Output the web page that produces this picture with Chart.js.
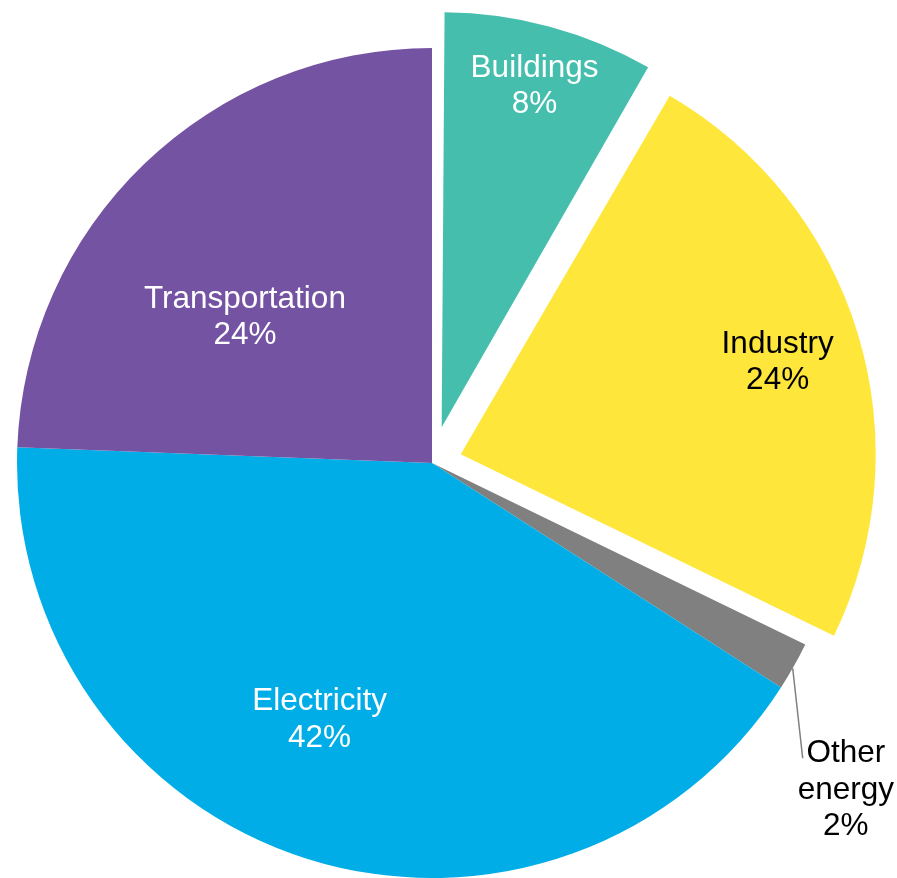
<!DOCTYPE html>
<html><head><meta charset="utf-8">
<script src="https://cdn.jsdelivr.net/npm/chart.js@4.4.1/dist/chart.umd.min.js"></script>
<style>html,body{margin:0;padding:0;background:#fff}#wrap{width:897px;height:878px;position:relative}</style>
</head><body><div id="wrap"><canvas id="c"></canvas></div>
<script>
const categories = ['Buildings', 'Industry', 'Other energy', 'Electricity', 'Transportation'];
const shares = [8.4, 23.8, 1.9, 41.5, 24.4];
const percentLabels = ['8%', '24%', '2%', '42%', '24%'];
const nameLines = [['Buildings'], ['Industry'], ['Other', 'energy'], ['Electricity'], ['Transportation']];

const sliceColors = ['#45BEAD', '#FFE63B', '#808080', '#00ADE6', '#7553A3'];
const textColors = ['#ffffff', '#000000', '#000000', '#ffffff', '#ffffff'];
const explodePx = [37, 30, 0, 0, 0];
// label placement: [radius fraction, angle shift in degrees]
const labelPlace = [[0.858, 0], [0.797, 0.3], [1.267, 8.75], [0.67, 6.4], [0.575, -7.7]];
// leader line: [r0 frac, angle0 shift, r1 frac, angle1 shift]
const leaders = [null, null, [1.0, 0.3, 1.142, 9.2], null, null];

const R = 415;
const OFFSET_DIV = 4;
const FONT_SIZE = 31.5;
const LINE_H = 36.5;

const labelPlugin = {
  id: 'sliceLabels',
  beforeDatasetsDraw(chart) {
    const meta = chart.getDatasetMeta(0);
    meta.data.forEach((el, i) => {
      const off = explodePx[i];
      const fix = 1 - Math.sin(Math.min(Math.PI, el.circumference || 0));
      el.outerRadius = R - off * fix;
    });
  },
  afterDatasetsDraw(chart) {
    const ctx = chart.ctx;
    const meta = chart.getDatasetMeta(0);
    ctx.save();
    ctx.font = FONT_SIZE + 'px "Liberation Sans", Arial, sans-serif';
    ctx.textAlign = 'center';
    ctx.textBaseline = 'alphabetic';
    meta.data.forEach((el, i) => {
      const mid = (el.startAngle + el.endAngle) / 2;
      const cx = el.x + Math.cos(mid) * explodePx[i];
      const cy = el.y + Math.sin(mid) * explodePx[i];
      const ld = leaders[i];
      if (ld) {
        const a0 = mid + ld[1] * Math.PI / 180, a1 = mid + ld[3] * Math.PI / 180;
        ctx.beginPath();
        ctx.strokeStyle = '#7f7f7f';
        ctx.lineWidth = 1.5;
        ctx.moveTo(cx + Math.cos(a0) * ld[0] * R, cy + Math.sin(a0) * ld[0] * R);
        ctx.lineTo(cx + Math.cos(a1) * ld[2] * R, cy + Math.sin(a1) * ld[2] * R);
        ctx.stroke();
      }
      const p = labelPlace[i];
      const a = mid + p[1] * Math.PI / 180;
      const x = cx + Math.cos(a) * p[0] * R;
      const y = cy + Math.sin(a) * p[0] * R;
      const lines = nameLines[i].concat([percentLabels[i]]);
      const n = lines.length;
      ctx.fillStyle = textColors[i];
      lines.forEach((t, k) => {
        const capCenter = y + (k - (n - 1) / 2) * LINE_H;
        ctx.fillText(t, x, capCenter + 0.358 * FONT_SIZE);
      });
    });
    ctx.restore();
  }
};

new Chart(document.getElementById('c'), {
  type: 'pie',
  data: {
    labels: categories,
    datasets: [{
      data: shares,
      backgroundColor: sliceColors,
      borderWidth: 0,
      offset: explodePx.map(v => v * OFFSET_DIV),
      hoverOffset: 0,
      radius: R,
      clip: false
    }]
  },
  options: {
    responsive: true,
    maintainAspectRatio: false,
    animation: false,
    events: [],
    layout: { padding: { left: 0, right: 33, top: 48, bottom: 0 } },
    plugins: { legend: { display: false }, tooltip: { enabled: false } }
  },
  plugins: [labelPlugin]
});
</script>
</body></html>
